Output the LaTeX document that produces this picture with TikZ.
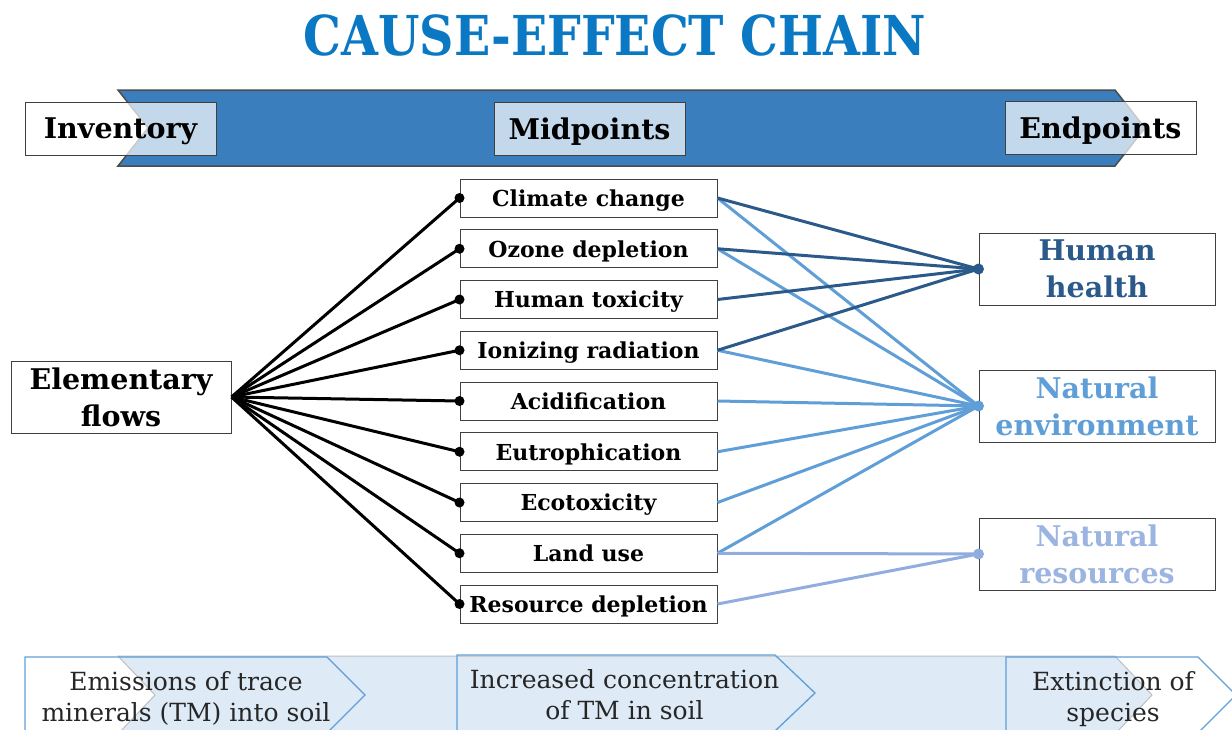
\documentclass[tikz,border=0pt]{standalone}
\usepackage{fontspec}
\setmainfont{DejaVu Serif}
\usetikzlibrary{positioning}

\definecolor{titleblue}{RGB}{10,120,195}
\definecolor{bannerblue}{RGB}{58,126,190}
\definecolor{bandblue}{RGB}{222,234,246}
\definecolor{hhblue}{RGB}{42,89,138}
\definecolor{neblue}{RGB}{95,158,215}
\definecolor{nrblue}{RGB}{145,172,222}

\begin{document}
\begin{tikzpicture}[x=1pt,y=-1pt,node distance=50.75pt,thick,
    head/.style={draw=black!75,line width=1pt,fill=white,fill opacity=0.7,text opacity=1,
      minimum width=191pt,minimum height=53pt,inner sep=0pt,text depth=0pt,
      font=\bfseries\fontsize{28.5}{30}\selectfont},
    box/.style={draw=black!75,line width=1pt,fill=white,minimum width=257pt,minimum height=38pt,
      inner sep=0pt,text depth=0pt,font=\bfseries\fontsize{22}{25}\selectfont},
    bigbox/.style={draw=black!75,line width=1pt,fill=white,align=center,minimum height=72pt,
      inner sep=0pt,font=\bfseries\fontsize{28.5}{37}\selectfont},
    flow/.style={draw=black,line width=3pt},
    hhline/.style={draw=hhblue,line width=3pt},
    neline/.style={draw=neblue,line width=3pt},
    nrline/.style={draw=nrblue,line width=3pt},
    stepline/.style={draw=neblue,line width=1.3pt},
    steptext/.style={align=center,text=black!85,font=\fontsize{25}{31}\selectfont}]
  \useasboundingbox (0,0) rectangle (1232,729);

  \node (title) [anchor=base,text=titleblue,font=\bfseries\fontsize{55}{60}\selectfont]
    at (615,55) {\scalebox{0.865}[1]{CAUSE-EFFECT CHAIN}};

  % banner
  \filldraw[fill=bannerblue,draw=black!70,line width=1.5pt]
    (118,90) -- (1115,90) -- (1145,128) -- (1115,166) -- (118,166) -- (148,128) -- cycle;
  \node (inv) [head] at (120.5,128.5) {Inventory};
  \node (mid) [head] at (589.5,128.5) {Midpoints};
  \node (endp) [head] at (1100.5,128) {Endpoints};

  % midpoints
  \node (cc) [box] at (588.5,198) {Climate change};
  \node (oz) [box,below of=cc] {Ozone depletion};
  \node (ht) [box,below of=oz] {Human toxicity};
  \node (ir) [box,below of=ht] {Ionizing radiation};
  \node (ac) [box,below of=ir] {Acidification};
  \node (eu) [box,below of=ac] {Eutrophication};
  \node (ec) [box,below of=eu] {Ecotoxicity};
  \node (lu) [box,below of=ec] {Land use};
  \node (rd) [box,below of=lu] {Resource depletion};

  \node (ef) [bigbox,minimum width=220pt] at (121,397) {Elementary\\flows};

  % endpoints
  \node (hh) [bigbox,minimum width=236pt,text=hhblue] at (1097,269) {Human\\health};
  \node (ne) [bigbox,minimum width=236pt,text=neblue] at (1097,406) {Natural\\environment};
  \node (nr) [bigbox,minimum width=236pt,text=nrblue!90] at (1097,554) {Natural\\resources};

  \draw[flow] (ef.east) -- (cc.west);
  \draw[flow] (ef.east) -- (oz.west);
  \draw[flow] (ef.east) -- (ht.west);
  \draw[flow] (ef.east) -- (ir.west);
  \draw[flow] (ef.east) -- (ac.west);
  \draw[flow] (ef.east) -- (eu.west);
  \draw[flow] (ef.east) -- (ec.west);
  \draw[flow] (ef.east) -- (lu.west);
  \draw[flow] (ef.east) -- (rd.west);
  \fill (cc.west) circle (5pt) (oz.west) circle (5pt) (ht.west) circle (5pt)
    (ir.west) circle (5pt) (ac.west) circle (5pt) (eu.west) circle (5pt)
    (ec.west) circle (5pt) (lu.west) circle (5pt) (rd.west) circle (5pt);

  \draw[neline] (cc.east) -- (ne.west);
  \draw[neline] (oz.east) -- (ne.west);
  \draw[neline] (ir.east) -- (ne.west);
  \draw[neline] (ac.east) -- (ne.west);
  \draw[neline] (eu.east) -- (ne.west);
  \draw[neline] (ec.east) -- (ne.west);
  \draw[neline] (lu.east) -- (ne.west);
  \draw[nrline] (lu.east) -- (nr.west);
  \draw[nrline] (rd.east) -- (nr.west);
  \draw[hhline] (cc.east) -- (hh.west);
  \draw[hhline] (oz.east) -- (hh.west);
  \draw[hhline] (ht.east) -- (hh.west);
  \draw[hhline] (ir.east) -- (hh.west);
  \fill[hhblue] (hh.west) circle (5.5pt);
  \fill[neblue] (ne.west) circle (5.5pt);
  \fill[nrblue] (nr.west) circle (5.5pt);

  % bottom chain
  \filldraw[fill=bandblue,draw=black!25,line width=1pt]
    (118,656) -- (1115,656) -- (1152,695) -- (1115,734) -- (118,734) -- (155,695) -- cycle;
  \draw[stepline] (25,657) -- (327,657) -- (365,695) -- (327,733) -- (25,733) -- cycle;
  \draw[stepline] (457,655) -- (775,655) -- (815,693) -- (775,731) -- (457,731) -- cycle;
  \draw[stepline] (1006,657) -- (1198,657) -- (1236,695) -- (1198,733) -- (1006,733) -- cycle;
  \node (emis) [steptext] at (186,698) {Emissions of trace\\minerals (TM) into soil};
  \node (conc) [steptext] at (624.5,695) {Increased concentration\\of TM in soil};
  \node (ext) [steptext] at (1113,699) {Extinction of\\species};
\end{tikzpicture}
\end{document}
